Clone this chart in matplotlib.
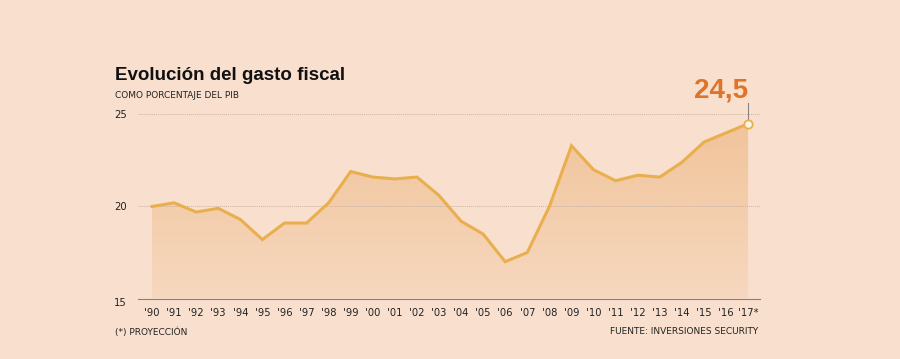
import matplotlib
matplotlib.use("Agg")
import matplotlib.pyplot as plt
import numpy as np
from matplotlib.colors import LinearSegmentedColormap
from matplotlib.patches import Polygon

years = ["'90", "'91", "'92", "'93", "'94", "'95", "'96", "'97", "'98", "'99",
         "'00", "'01", "'02", "'03", "'04", "'05", "'06", "'07", "'08", "'09",
         "'10", "'11", "'12", "'13", "'14", "'15", "'16", "'17*"]
gasto = [20.0, 20.2, 19.7, 19.9, 19.3, 18.2, 19.1, 19.1, 20.2, 21.9,
         21.6, 21.5, 21.6, 20.6, 19.2, 18.5, 17.0, 17.5, 20.0, 23.3,
         22.0, 21.4, 21.7, 21.6, 22.4, 23.5, 24.0, 24.5]
yticks = [15, 20, 25]
last_label = "24,5"

BG = "#F9E0CE"
LINE = "#E9AF4E"
ORANGE = "#E0732A"

fig = plt.figure(figsize=(9, 3.59), dpi=100, facecolor=BG)
ax = fig.add_axes([138/900, 1 - 298.5/359, 622/900, 184/359])
ax.set_facecolor(BG)

x = np.arange(len(gasto))
ax.set_xlim(-0.634, len(gasto) - 1 + 0.54)
ax.set_ylim(15, 25)

# gradient fill under line
cmap = LinearSegmentedColormap.from_list("g", ["#F6D8BF", "#F1C399"])
grad = np.linspace(0, 1, 256).reshape(-1, 1)
im = ax.imshow(grad, cmap=cmap, aspect="auto", origin="lower",
               extent=[x[0], x[-1], 15, 25], zorder=1)
verts = np.vstack([np.column_stack([x, gasto]), [[x[-1], 15], [x[0], 15]]])
clip = Polygon(verts, closed=True, transform=ax.transData, facecolor="none", edgecolor="none")
ax.add_patch(clip)
im.set_clip_path(clip)

# gridlines
for yv in [20, 25]:
    ax.axhline(yv, color="#C9B4A6", lw=0.7, ls=(0, (1, 1)), zorder=2)

ax.plot(x, gasto, color=LINE, lw=2.2, zorder=3, solid_joinstyle="miter")
ax.plot([x[-1]], [gasto[-1]], marker="o", ms=6, mfc="#FFF4E0", mec=LINE, mew=1.3,
        zorder=5, clip_on=False)
ax.plot([x[-1], x[-1]], [gasto[-1] + 0.25, gasto[-1] + 1.1], color="#8C8080", lw=0.8,
        zorder=4, clip_on=False)
ax.text(x[-1] - 0.02, gasto[-1] + 1.1, last_label, color=ORANGE, fontsize=20,
        fontweight="bold", family="Liberation Sans", ha="right", va="bottom",
        clip_on=False)

for s in ["top", "right", "left"]:
    ax.spines[s].set_visible(False)
ax.spines["bottom"].set_color("#8E7F76")
ax.spines["bottom"].set_linewidth(0.8)
ax.spines["bottom"].set_zorder(6)

ax.set_xticks(x)
ax.set_xticklabels(years)
ax.set_yticks(yticks)
ax.set_yticklabels([str(v) for v in yticks])
ax.tick_params(axis="x", length=0, pad=7, labelsize=7.2, labelcolor="#222222")
ax.tick_params(axis="y", length=0, pad=8, labelsize=7.2, labelcolor="#222222")
for lbl in ax.get_yticklabels():
    if lbl.get_text() == "15":
        lbl.set_va("top")

fig.text(115/900, 1 - 76/359, "Evolución del gasto fiscal", fontsize=13.5,
         fontweight="bold", family="Liberation Sans", color="#111111",
         va="center", ha="left")
fig.text(115/900, 1 - 96/359, "COMO PORCENTAJE DEL PIB", fontsize=6.5,
         color="#222222", va="center", ha="left")
fig.text(115/900, 1 - 332/359, "(*) PROYECCIÓN", fontsize=6.5,
         color="#222222", va="center", ha="left")
fig.text(758/900, 1 - 332/359, "FUENTE: INVERSIONES SECURITY", fontsize=6.5,
         color="#222222", va="center", ha="right")

fig.savefig("out.png", dpi=100, facecolor=BG)
